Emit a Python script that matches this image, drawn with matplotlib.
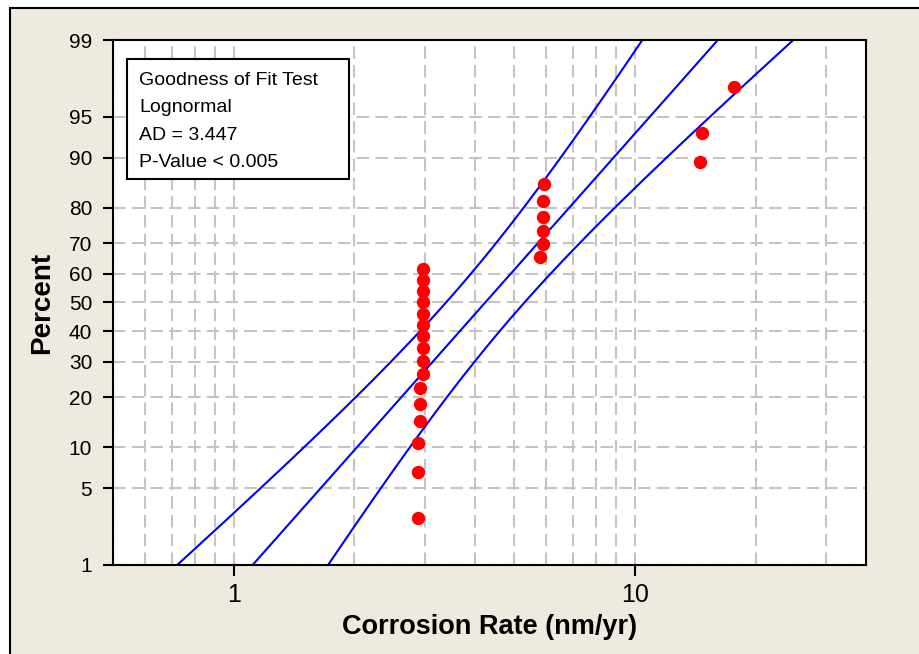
import math
import numpy as np
import matplotlib
matplotlib.use("Agg")
import matplotlib.pyplot as plt
from matplotlib.patches import Rectangle

corrosion_rate = [2.88, 2.88, 2.88, 2.92, 2.92, 2.92,
                  2.96, 2.96, 2.96, 2.96, 2.96, 2.96, 2.96, 2.96, 2.96, 2.96,
                  5.80, 5.90, 5.90, 5.90, 5.90, 5.95,
                  14.5, 14.7, 17.7]
# plotting positions (median ranks, percent)
percent = [2.8, 6.7, 10.6, 14.6, 18.5, 22.4, 26.4, 30.3, 34.3, 38.2, 42.1, 46.1, 50.0,
           53.9, 57.9, 61.8, 65.7, 69.7, 73.6, 77.6, 81.5, 85.4, 89.4, 93.3, 97.2]

# lognormal fit (natural log location / scale) and sample size
fit_loc = 1.4437
fit_scale = 0.574
n_obs = 25

y_ticks = [1, 5, 10, 20, 30, 40, 50, 60, 70, 80, 90, 95, 99]
x_ticks = [1, 10]
x_minor = [0.5, 0.6, 0.7, 0.8, 0.9, 2, 3, 4, 5, 6, 7, 8, 9, 20, 30]

gof_text = ["Goodness of Fit Test", "Lognormal", "AD = 3.447", "P-Value < 0.005"]


def norm_ppf(p):
    # inverse standard normal by bisection on erf
    lo, hi = -10.0, 10.0
    for _ in range(80):
        mid = 0.5 * (lo + hi)
        if 0.5 * (1 + math.erf(mid / math.sqrt(2))) < p:
            lo = mid
        else:
            hi = mid
    return 0.5 * (lo + hi)


z_pts = [norm_ppf(p / 100) for p in percent]
z_ticks = [norm_ppf(p / 100) for p in y_ticks]
z_lo, z_hi = norm_ppf(0.01), norm_ppf(0.99)

# fitted line and 95% confidence bands
z = np.linspace(-2.6, 2.6, 300)
centre = fit_loc + z * fit_scale
half = 1.96 * fit_scale * np.sqrt(1 / n_obs + z ** 2 / (2 * n_obs))

plt.rcParams['font.family'] = ['Liberation Sans', 'DejaVu Sans']

fig = plt.figure(figsize=(9.2, 6.54), dpi=100)
fig.patch.set_facecolor('white')
fig.add_artist(Rectangle((10 / 920, -0.1), 1.2, 1 - 8 / 654 + 0.1,
                         transform=fig.transFigure, facecolor='#EEEAE0',
                         edgecolor='black', linewidth=1.5, zorder=0))

ax = fig.add_axes([113 / 920, 1 - 565 / 654, 753 / 920, 525 / 654])
ax.set_facecolor('white')
ax.set_xscale('log')
ax.set_xlim(0.5, 37.7)
ax.set_ylim(z_lo, z_hi)

grid_kw = dict(color='#c4c4c4', linewidth=1.5, linestyle=(0, (6, 3)), zorder=1)
for xv in x_ticks + x_minor:
    ax.axvline(xv, **grid_kw)
for zv in z_ticks:
    ax.axhline(zv, **grid_kw)

ax.plot(np.exp(centre), z, color='#0000FF', linewidth=1.5, zorder=3)
ax.plot(np.exp(centre - half), z, color='#0000FF', linewidth=1.5, zorder=3)
ax.plot(np.exp(centre + half), z, color='#0000FF', linewidth=1.5, zorder=3)

ax.plot(corrosion_rate, z_pts, 'o', color='#FF0000', markersize=9.6,
        markeredgewidth=0, zorder=4)

ax.set_yticks(z_ticks)
ax.set_yticklabels([str(t) for t in y_ticks], fontsize=15)
ax.set_xticks(x_ticks)
ax.set_xticklabels([str(t) for t in x_ticks], fontsize=18)
ax.xaxis.set_minor_locator(matplotlib.ticker.NullLocator())
ax.tick_params(axis='y', length=7, width=1.5, pad=8)
ax.tick_params(axis='x', length=8, width=1.5, pad=5)
for s in ax.spines.values():
    s.set_linewidth(1.5)
    s.set_zorder(5)

ax.set_xlabel('Corrosion Rate (nm/yr)', fontsize=19.5, fontweight='bold', labelpad=5)
ax.set_ylabel('Percent', fontsize=20, fontweight='bold', labelpad=10)

# goodness of fit box
ax.add_artist(Rectangle(((127 - 113) / 753, 1 - (179 - 40) / 525), 222 / 753, 120 / 525,
                        transform=ax.transAxes, facecolor='white', edgecolor='black',
                        linewidth=1.5, zorder=6))
for i, line in enumerate(gof_text):
    ax.text((139 - 113) / 753, 1 - (85 + 27.3 * i - 40) / 525, line,
            transform=ax.transAxes, fontsize=14, ha='left', va='baseline', zorder=7)

fig.savefig('out.png', dpi=100)
